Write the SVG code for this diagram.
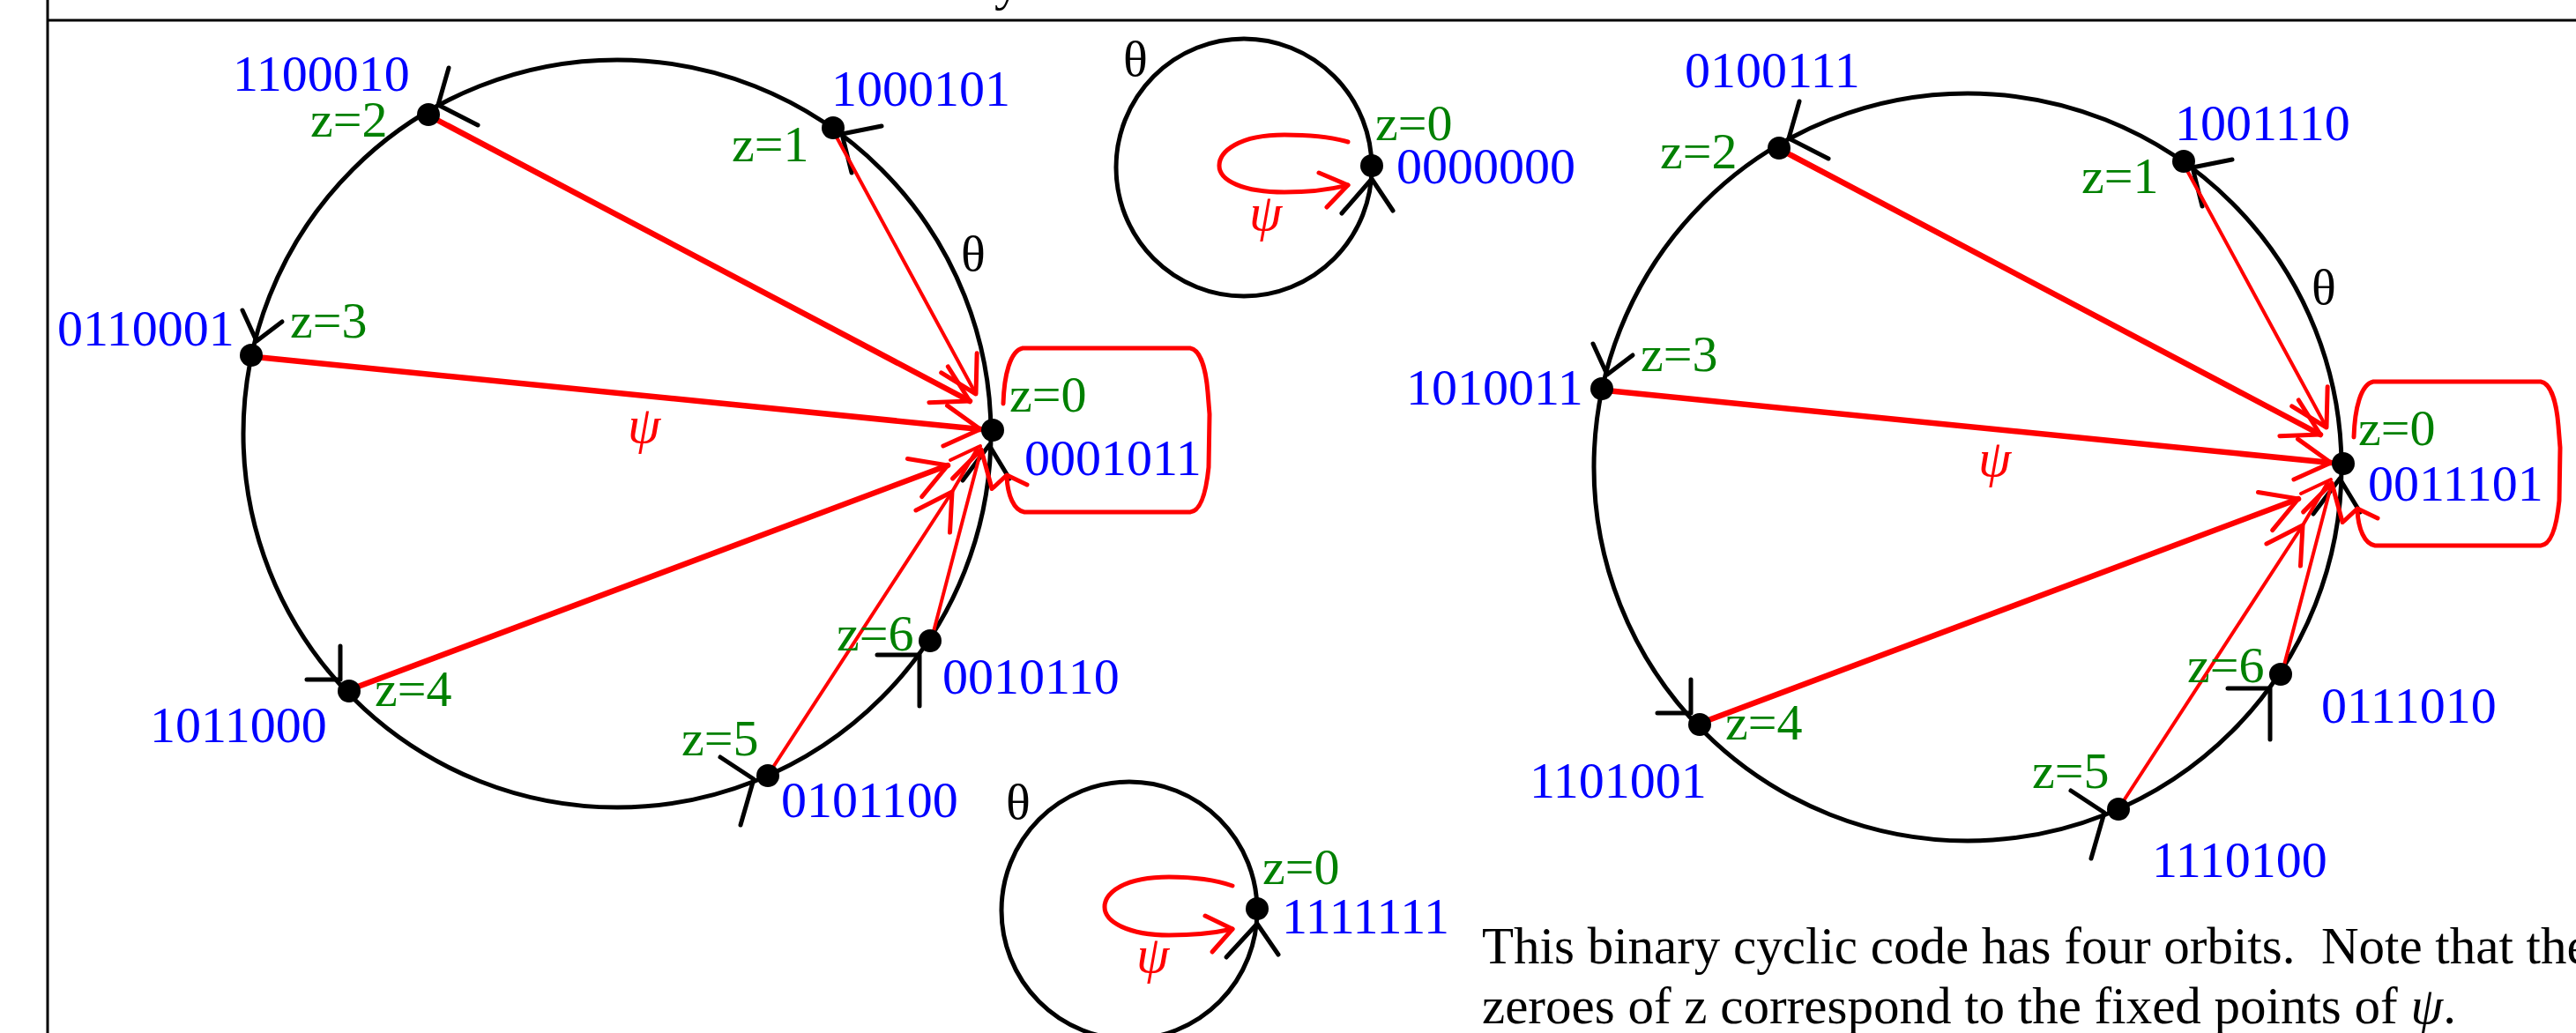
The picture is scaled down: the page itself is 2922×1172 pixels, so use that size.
<svg xmlns="http://www.w3.org/2000/svg" width="2922" height="1172" viewBox="0 0 2922 1172">
<style>
  .frame{fill:none;stroke:#000;stroke-width:3}
  .orbit{fill:none;stroke:#000;stroke-width:5}
  .th{fill:none;stroke:#000;stroke-width:5;stroke-linecap:round;stroke-linejoin:round}
  .psi{fill:none;stroke:#ff0000;stroke-width:5;stroke-linecap:round;stroke-linejoin:round}
  .psi-thin{fill:none;stroke:#ff0000;stroke-width:4;stroke-linecap:round}
  .psi-thick{fill:none;stroke:#ff0000;stroke-width:6.5;stroke-linecap:round}
  .dot{fill:#000}
  text{font-family:"Liberation Serif","Times New Roman",serif;font-size:58px}
  .code{fill:#0000ff}
  .z{fill:#008000}
  .theta{fill:#000}
  .psil{fill:#ff0000;font-style:italic;font-size:60px}
  .cap{fill:#000;font-size:59px;white-space:pre}
</style>
<defs>
  <marker id="rh" markerUnits="userSpaceOnUse" orient="auto" viewBox="-50 -30 60 60" markerWidth="60" markerHeight="60" refX="0" refY="0">
    <path d="M -40 -23 L 0 0 L -40 23" fill="none" stroke="#ff0000" stroke-width="5" stroke-linecap="round" stroke-linejoin="round"/>
  </marker>
</defs>
<rect width="2922" height="1172" fill="#ffffff"/>

<!-- frame and clipped title -->
<g id="frame">
  <line class="frame" x1="54" y1="0" x2="54" y2="1172"/>
  <line class="frame" x1="54" y1="23" x2="2922" y2="23"/>
  <text x="1128" y="0" class="theta" font-size="60">y</text>
</g>

<!-- connectors -->
<g id="connectors">
  <!-- left orbit -->
  <g id="left-orbit">
    <circle class="orbit" cx="700" cy="492" r="424"/>
    <polyline class="th" points="1092,545 1122,505 1145,543"/>
    <polyline class="th" points="1000,143 955,152 966,196"/>
    <polyline class="th" points="509,77 497,119 542,142"/>
    <polyline class="th" points="275,352 291,387 320,365"/>
    <polyline class="th" points="386,733 386,771 348,771"/>
    <polyline class="th" points="817,859 855,884 840,936"/>
    <polyline class="th" points="995,743 1043,743 1043,801"/>
    <line class="psi-thin" x1="947" y1="152" x2="1107" y2="447" marker-end="url(#rh)"/>
    <line class="psi-thick" x1="490" y1="133" x2="1100" y2="455" marker-end="url(#rh)"/>
    <line class="psi-thick" x1="290" y1="405" x2="1112" y2="487" marker-end="url(#rh)"/>
    <line class="psi-thick" x1="398" y1="782" x2="1075" y2="528" marker-end="url(#rh)"/>
    <line class="psi-thin" x1="1078" y1="522" x2="1112" y2="506"/>
    <line class="psi-thin" x1="872" y1="878" x2="1080" y2="558" marker-end="url(#rh)"/>
    <line class="psi-thin" x1="1080" y1="558" x2="1108" y2="510"/>
    <line class="psi-thin" x1="1057" y1="724" x2="1113" y2="510" marker-end="url(#rh)"/>
    <path class="psi" stroke-width="6" d="M 1138 458 C 1139 425 1146 398 1160 395 L 1350 395 C 1362 397 1368 420 1370 445 L 1372 470 L 1371 530 C 1368 560 1362 580 1350 581 L 1162 581 C 1150 579 1143 562 1142 541"/>
    <polyline class="psi" points="1127,553 1142,539 1165,550"/>
  </g>
  <!-- right orbit (same drawing, shifted) -->
  <g id="right-orbit" transform="translate(1532 38)">
    <circle class="orbit" cx="700" cy="492" r="424"/>
    <polyline class="th" points="1092,545 1122,505 1145,543"/>
    <polyline class="th" points="1000,143 955,152 966,196"/>
    <polyline class="th" points="509,77 497,119 542,142"/>
    <polyline class="th" points="275,352 291,387 320,365"/>
    <polyline class="th" points="386,733 386,771 348,771"/>
    <polyline class="th" points="817,859 855,884 840,936"/>
    <polyline class="th" points="995,743 1043,743 1043,801"/>
    <line class="psi-thin" x1="947" y1="152" x2="1107" y2="447" marker-end="url(#rh)"/>
    <line class="psi-thick" x1="490" y1="133" x2="1100" y2="455" marker-end="url(#rh)"/>
    <line class="psi-thick" x1="290" y1="405" x2="1112" y2="487" marker-end="url(#rh)"/>
    <line class="psi-thick" x1="398" y1="782" x2="1075" y2="528" marker-end="url(#rh)"/>
    <line class="psi-thin" x1="1078" y1="522" x2="1112" y2="506"/>
    <line class="psi-thin" x1="872" y1="878" x2="1080" y2="558" marker-end="url(#rh)"/>
    <line class="psi-thin" x1="1080" y1="558" x2="1108" y2="510"/>
    <line class="psi-thin" x1="1057" y1="724" x2="1113" y2="510" marker-end="url(#rh)"/>
    <path class="psi" stroke-width="6" d="M 1138 458 C 1139 425 1146 398 1160 395 L 1350 395 C 1362 397 1368 420 1370 445 L 1372 470 L 1371 530 C 1368 560 1362 580 1350 581 L 1162 581 C 1150 579 1143 562 1142 541"/>
    <polyline class="psi" points="1127,553 1142,539 1165,550"/>
  </g>
  <!-- top fixed point orbit -->
  <g id="top-orbit">
    <ellipse class="orbit" cx="1411" cy="190" rx="145" ry="146"/>
    <polyline class="th" points="1522,242 1556,203 1580,239"/>
    <path class="psi" stroke-width="6" d="M 1529 161 C 1505 154 1480 153 1457 153 C 1405 153 1383 172 1383 188 C 1383 205 1410 218 1457 218 C 1485 218 1510 215 1529 210"/>
    <polyline class="psi" stroke-width="6" points="1496,196 1529,210 1505,235"/>
  </g>
  <!-- bottom fixed point orbit -->
  <g id="bottom-orbit">
    <ellipse class="orbit" cx="1281" cy="1033" rx="145" ry="146"/>
    <polyline class="th" points="1391,1086 1426,1048 1450,1083"/>
    <path class="psi" stroke-width="6" d="M 1398 1005 C 1375 997 1350 995 1326 995 C 1275 995 1253 1013 1253 1029 C 1253 1046 1280 1061 1326 1061 C 1355 1061 1380 1058 1398 1054"/>
    <polyline class="psi" stroke-width="6" points="1367,1039 1398,1054 1375,1080"/>
  </g>
</g>

<!-- orbit labels -->
<g id="labels">
  <text class="theta" x="1090" y="307">θ</text>
  <text class="psil" x="712" y="502">ψ</text>
  <text class="theta" x="2622" y="345">θ</text>
  <text class="psil" x="2244" y="540">ψ</text>
  <text class="theta" x="1274" y="86">θ</text>
  <text class="psil" x="1417" y="261">ψ</text>
  <text class="theta" x="1141" y="929">θ</text>
  <text class="psil" x="1289" y="1103">ψ</text>
</g>

<!-- left orbit nodes -->
<g id="L0"><circle class="dot" cx="1126" cy="488" r="13"/><text class="z" x="1145" y="467">z=0</text><text class="code" x="1162" y="539">0001011</text></g>
<g id="L1"><circle class="dot" cx="945" cy="145" r="13"/><text class="z" x="830" y="183">z=1</text><text class="code" x="943" y="120">1000101</text></g>
<g id="L2"><circle class="dot" cx="486" cy="130" r="13"/><text class="z" x="352" y="155">z=2</text><text class="code" x="264" y="103">1100010</text></g>
<g id="L3"><circle class="dot" cx="285" cy="403" r="13"/><text class="z" x="329" y="383">z=3</text><text class="code" x="65" y="392">0110001</text></g>
<g id="L4"><circle class="dot" cx="396" cy="784" r="13"/><text class="z" x="425" y="801">z=4</text><text class="code" x="170" y="842">1011000</text></g>
<g id="L5"><circle class="dot" cx="871" cy="880" r="13"/><text class="z" x="773" y="857">z=5</text><text class="code" x="886" y="927">0101100</text></g>
<g id="L6"><circle class="dot" cx="1055" cy="727" r="13"/><text class="z" x="949" y="738">z=6</text><text class="code" x="1069" y="787">0010110</text></g>

<!-- right orbit nodes -->
<g id="R0"><circle class="dot" cx="2658" cy="526" r="13"/><text class="z" x="2675" y="505">z=0</text><text class="code" x="2686" y="568">0011101</text></g>
<g id="R1"><circle class="dot" cx="2477" cy="183" r="13"/><text class="z" x="2361" y="219">z=1</text><text class="code" x="2467" y="159">1001110</text></g>
<g id="R2"><circle class="dot" cx="2018" cy="168" r="13"/><text class="z" x="1883" y="191">z=2</text><text class="code" x="1911" y="99">0100111</text></g>
<g id="R3"><circle class="dot" cx="1817" cy="441" r="13"/><text class="z" x="1861" y="421">z=3</text><text class="code" x="1595" y="459">1010011</text></g>
<g id="R4"><circle class="dot" cx="1928" cy="822" r="13"/><text class="z" x="1957" y="839">z=4</text><text class="code" x="1735" y="905">1101001</text></g>
<g id="R5"><circle class="dot" cx="2403" cy="918" r="13"/><text class="z" x="2305" y="894">z=5</text><text class="code" x="2441" y="995">1110100</text></g>
<g id="R6"><circle class="dot" cx="2587" cy="765" r="13"/><text class="z" x="2481" y="774">z=6</text><text class="code" x="2633" y="820">0111010</text></g>

<!-- fixed points -->
<g id="T0"><circle class="dot" cx="1556" cy="188" r="13"/><text class="z" x="1560" y="159">z=0</text><text class="code" x="1584" y="208">0000000</text></g>
<g id="B0"><circle class="dot" cx="1426" cy="1031" r="13"/><text class="z" x="1432" y="1003">z=0</text><text class="code" x="1454" y="1059">1111111</text></g>

<!-- caption -->
<g id="caption">
  <text class="cap" x="1681" y="1093" xml:space="preserve">This binary cyclic code has four orbits.  Note that the</text>
  <text class="cap" x="1681" y="1161">zeroes of z correspond to the fixed points of <tspan font-style="italic">ψ</tspan>.</text>
</g>
</svg>
